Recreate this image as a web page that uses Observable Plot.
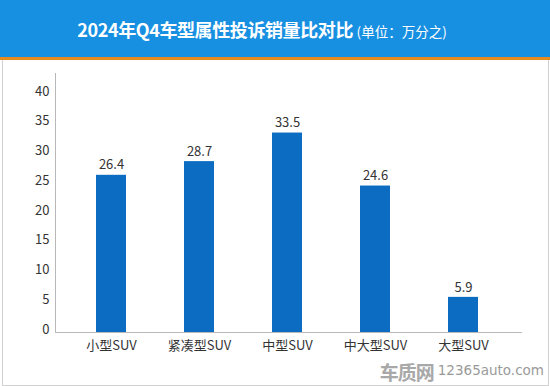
<!DOCTYPE html>
<html>
<head>
<meta charset="utf-8">
<script src="https://cdn.jsdelivr.net/npm/d3@7"></script>
<script src="https://cdn.jsdelivr.net/npm/@observablehq/plot@0.6"></script>
<style>
  html, body { margin: 0; padding: 0; background: #fff; }
  body { width: 550px; height: 386px; overflow: hidden; position: relative; font-family: "Noto Sans CJK SC", "Noto Sans", sans-serif; }
  #banner { position: absolute; left: 0; top: 0; width: 524px; padding-right: 26px; height: 57px; background: #1890e2; border-bottom: 3px solid #e98a1c; text-align: center; color: #fff; line-height: 58px; white-space: nowrap; }
  #banner .main { font-size: 18px; font-weight: bold; letter-spacing: -0.4px; }
  #banner .unit { font-size: 13.5px; font-weight: normal; }
  #frame { position: absolute; left: 2px; top: 60px; width: 545px; height: 325px; border: 1px solid #d2d2d2; border-top: none; pointer-events: none; }
  #chart { position: absolute; left: 0; top: 60px; }
  #wm { position: absolute; right: 6px; top: 361px; height: 20px; line-height: 20px; color: #9a9a9a; white-space: nowrap; display: flex; align-items: center; }
  #wm .logo { font-size: 19px; line-height: 1; font-weight: bold; letter-spacing: -1px; color: #a8a8a8; }
  #wm .url { font-size: 13.5px; line-height: 1; font-family: "DejaVu Sans", sans-serif; margin-left: 4px; }
</style>
</head>
<body>
<div id="banner"><span class="main">2024年Q4车型属性投诉销量比对比</span> <span class="unit">(单位：万分之)</span></div>
<div id="chart"></div>
<div id="frame"></div>
<div id="wm"><span class="logo">车质网</span><span class="url">12365auto.com</span></div>
<script>
const categories = ["小型SUV", "紧凑型SUV", "中型SUV", "中大型SUV", "大型SUV"];
const values = [26.4, 28.7, 33.5, 24.6, 5.9];
const yTicks = [0, 5, 10, 15, 20, 25, 30, 35, 40];

const data = categories.map((c, i) => ({cat: c, value: values[i]}));

const chart = Plot.plot({
  width: 550,
  height: 326,
  marginLeft: 55,
  marginRight: 28,
  marginTop: 13,
  marginBottom: 54,
  style: {fontFamily: "'Noto Sans CJK SC', 'Noto Sans', sans-serif", fontSize: "13px", color: "#333", background: "transparent", overflow: "visible"},
  x: {domain: categories, paddingInner: 0.66, paddingOuter: 0.33, insetLeft: 10, insetRight: 14, label: null},
  y: {domain: [0, 43.5], label: null},
  marks: [
    Plot.barY(data, {x: "cat", y: "value", fill: "#0b6cc1"}),
    Plot.text(data, {x: "cat", y: "value", text: d => d.value.toFixed(1), dy: -10, fontSize: 13, fill: "#333"}),
    Plot.ruleY([0], {stroke: "#b8b8b8"}),
    Plot.frame({anchor: "left", stroke: "#b8b8b8"}),
    Plot.axisY({ticks: yTicks, tickSize: 0, tickPadding: 6, dy: -3, fontSize: 13, fill: "#333", label: null}),
    Plot.axisX({tickSize: 0, tickPadding: 8, fontSize: 13, fill: "#333", label: null})
  ]
});
document.getElementById("chart").appendChild(chart);
</script>
</body>
</html>
